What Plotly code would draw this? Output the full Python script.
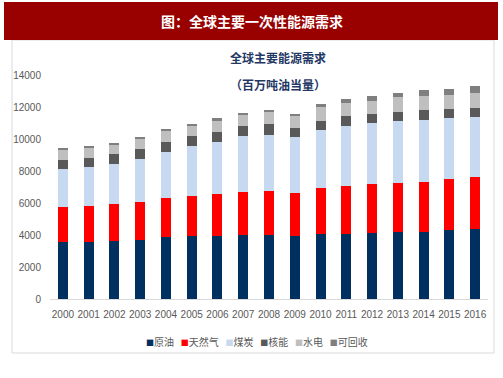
import plotly.graph_objects as go

years = [str(y) for y in range(2000, 2017)]
oil = [3560, 3560, 3625, 3710, 3875, 3915, 3960, 4000, 4000, 3915, 4040, 4060, 4125, 4210, 4210, 4290, 4375]
gas = [2190, 2250, 2310, 2355, 2435, 2500, 2585, 2690, 2730, 2690, 2895, 2980, 3040, 3040, 3085, 3185, 3230]
coal = [2375, 2415, 2500, 2710, 2895, 3125, 3290, 3500, 3520, 3500, 3645, 3790, 3855, 3895, 3895, 3815, 3750]
nuclear = [585, 605, 605, 605, 625, 625, 625, 605, 665, 605, 545, 605, 560, 560, 605, 585, 605]
hydro = [645, 625, 605, 625, 670, 665, 690, 690, 750, 750, 855, 815, 815, 895, 895, 875, 895]
renew = [85, 65, 85, 125, 105, 125, 145, 165, 145, 125, 210, 250, 290, 290, 355, 395, 480]

names = ["原油", "天然气", "煤炭", "核能", "水电", "可回收"]
colors = ["#00305F", "#FF0000", "#C6D9F1", "#595959", "#BFBFBF", "#7F7F7F"]
series = [oil, gas, coal, nuclear, hydro, renew]
yticks = [0, 2000, 4000, 6000, 8000, 10000, 12000, 14000]

FONT = "Liberation Sans, Arial, Noto Sans CJK SC, sans-serif"
CJK = "Noto Sans CJK SC, sans-serif"

fig = go.Figure()
for n, c, s in zip(names, colors, series):
    fig.add_trace(go.Bar(x=years, y=s, name=n, marker=dict(color=c, line=dict(width=0))))

# plot area: x 50..488, y 75..299
W, H = 503, 378
L, R, T, B = 50, 15, 75, 79
pw, ph = W - L - R, H - T - B

def px(x):
    return (x - L) / pw

def py(y):
    return (H - B - y) / ph

fig.update_layout(
    width=W, height=H,
    margin=dict(l=L, r=R, t=T, b=B, pad=0),
    barmode="stack",
    bargap=0.61,
    plot_bgcolor="white",
    paper_bgcolor="white",
    showlegend=False,
    font=dict(family=FONT, color="#595959", size=10),
    xaxis=dict(
        type="category", showgrid=False, zeroline=False,
        showline=True, linecolor="#D9D9D9", linewidth=1,
        ticks="", tickfont=dict(size=10, color="#595959", family=FONT),
        ticklabelstandoff=6,
    ),
    yaxis=dict(
        range=[0, 14000], tickvals=yticks, ticktext=[str(v) for v in yticks],
        showgrid=False, zeroline=False, showline=False, ticks="",
        tickfont=dict(size=10, color="#595959", family=FONT),
        ticklabelstandoff=8,
    ),
    shapes=[
        dict(type="rect", xref="paper", yref="paper", layer="below",
             x0=px(12), x1=px(494), y0=py(353), y1=py(40),
             line=dict(color="#D9D9D9", width=1), fillcolor="white"),
        dict(type="rect", xref="paper", yref="paper", layer="above",
             x0=px(4), x1=px(498), y0=py(40), y1=py(2),
             line=dict(width=0), fillcolor="#990000"),
    ],
)

legend_html = "   ".join(
    f'<span style="color:{c};font-size:8px">■</span>{n}' for n, c in zip(names, colors)
)

fig.add_annotation(text="<b>图：全球主要一次性能源需求</b>", xref="paper", yref="paper",
                   x=px(252), y=py(21), showarrow=False, xanchor="center", yanchor="middle",
                   font=dict(family=CJK, size=14, color="white"))
fig.add_annotation(text="<b>全球主要能源需求</b>", xref="paper", yref="paper",
                   x=px(278), y=py(58), showarrow=False, xanchor="center", yanchor="middle",
                   font=dict(family=CJK, size=12, color="#1F3864"))
fig.add_annotation(text="<b>（百万吨油当量）</b>", xref="paper", yref="paper",
                   x=px(278), y=py(84), showarrow=False, xanchor="center", yanchor="middle",
                   font=dict(family=CJK, size=12, color="#1F3864"))
fig.add_annotation(text=legend_html, xref="paper", yref="paper",
                   x=px(257), y=py(341), showarrow=False, xanchor="center", yanchor="middle",
                   font=dict(family=CJK, size=10, color="#595959"))

fig.write_html("out.html", config={"displayModeBar": False},
               post_script="document.body.style.margin='0';document.body.style.overflow='hidden';")
